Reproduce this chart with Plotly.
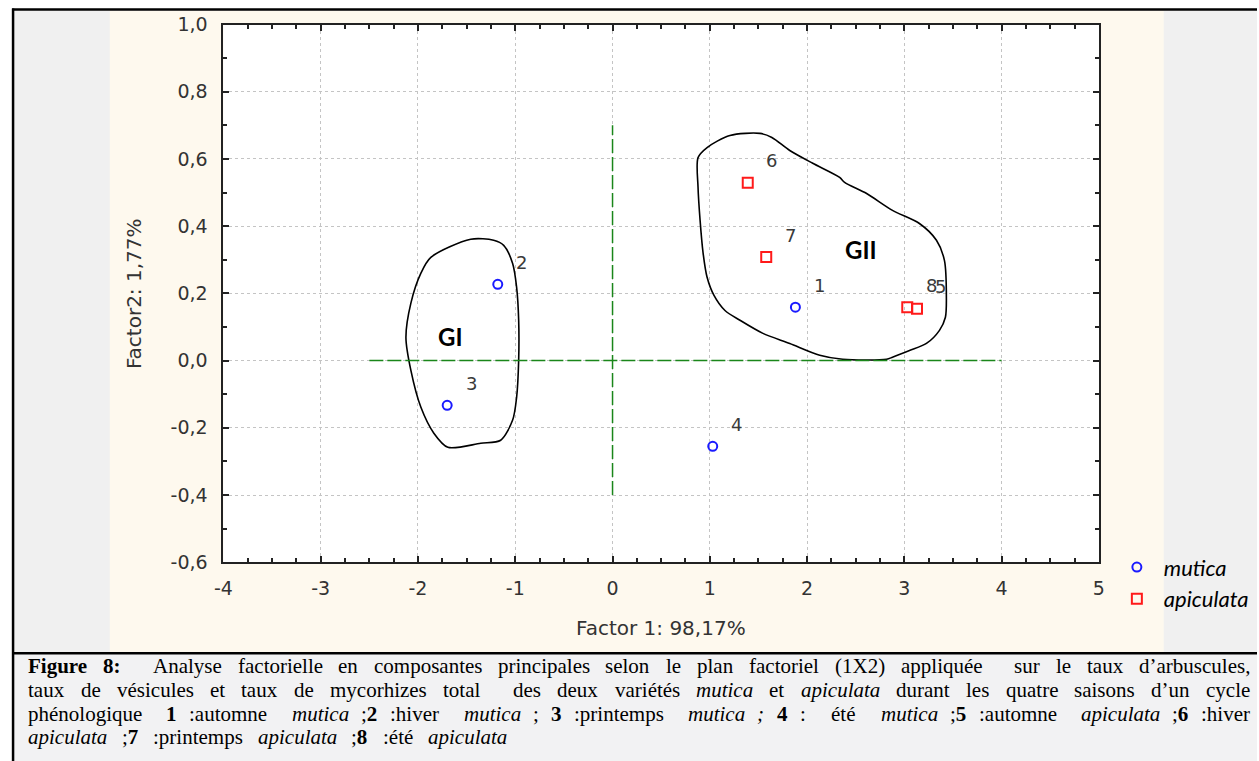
import re
import plotly.graph_objects as go

# ---- data -------------------------------------------------------------
point_labels = ["1", "2", "3", "4", "5", "6", "7", "8"]
variety = ["mutica", "mutica", "mutica", "mutica",
           "apiculata", "apiculata", "apiculata", "apiculata"]
factor1 = [1.88, -1.18, -1.70, 1.03, 3.13, 1.39, 1.58, 3.03]
factor2 = [0.159, 0.227, -0.133, -0.255, 0.154, 0.529, 0.308, 0.159]

# hand-drawn group envelopes (factor1, factor2)
gi_x = [-1.868, -1.458, -1.222, -1.119, -1.027, -0.986, -0.965, -0.965, -0.986, -1.027,
        -1.150, -1.355, -1.693, -1.837, -1.970, -2.073, -2.124, -2.073, -1.970, -1.868]
gi_y = [0.307, 0.361, 0.358, 0.343, 0.289, 0.218, 0.120, 0.001, -0.109, -0.177,
        -0.237, -0.246, -0.258, -0.216, -0.139, -0.029, 0.069, 0.171, 0.260, 0.307]
gii_x = [0.879, 0.972, 1.207, 1.515, 1.638, 1.822, 2.058, 2.335, 2.386, 2.612, 2.878,
         3.155, 3.330, 3.412, 3.432, 3.422, 3.361, 3.227, 3.053, 2.878, 2.817, 2.366,
         2.130, 1.822, 1.546, 1.310, 1.156, 1.043, 0.972, 0.931, 0.900, 0.879, 0.879]
gii_y = [0.604, 0.634, 0.670, 0.676, 0.664, 0.625, 0.587, 0.545, 0.530, 0.497, 0.447,
         0.408, 0.358, 0.298, 0.188, 0.129, 0.090, 0.051, 0.030, 0.010, 0.004, 0.004,
         0.016, 0.051, 0.081, 0.120, 0.149, 0.194, 0.248, 0.320, 0.418, 0.516, 0.604]
group_names = ["GI", "GII"]
group_label_x = [-1.67, 2.55]
group_label_y = [0.072, 0.331]

x_ticks = [-4, -3, -2, -1, 0, 1, 2, 3, 4, 5]
x_tick_text = ["-4", "-3", "-2", "-1", "0", "1", "2", "3", "4", "5"]
y_ticks = [-0.6, -0.4, -0.2, 0.0, 0.2, 0.4, 0.6, 0.8, 1.0]
y_tick_text = ["-0,6", "-0,4", "-0,2", "0,0", "0,2", "0,4", "0,6", "0,8", "1,0"]

# reference axes through the origin
h_ref = dict(x0=-2.5, x1=4.0, y=0.0)
v_ref = dict(x=0.0, y0=-0.4, y1=0.7)

caption_lines = [
    "<b>Figure</b> <b>8:</b>  Analyse factorielle en composantes principales selon le plan "
    "factoriel (1X2) appliquée  sur le taux d\u2019arbuscules,",
    "taux de vésicules et taux de mycorhizes total  des deux variétés <i>mutica</i> et "
    "<i>apiculata</i> durant les quatre saisons d\u2019un cycle",
    "phénologique  <b>1</b> :automne  <i>mutica</i> ;<b>2</b> :hiver  <i>mutica</i> ; "
    "<b>3</b> :printemps  <i>mutica</i> <i>;</i> <b>4</b> :  été  <i>mutica</i> ;<b>5</b> "
    ":automne  <i>apiculata</i> ;<b>6</b> :hiver",
    "<i>apiculata</i> ;<b>7</b> :printemps <i>apiculata</i> ;<b>8</b> :été <i>apiculata</i>",
]

# ---- page geometry ---------------------------------------------------------
# Layout positions are written on a 1259x761 design grid, then mapped onto
# the page (figure sits inside the body's 8px margin).
BODY = 8
GRID_SX, GRID_OX = 0.991, -1.0
GRID_SY, GRID_OY = 0.972, 2.7
W = 1263
H = 772
PL, PR, PT, PB = 222, 1100, 24, 562


def page_x(x):
    return (x - GRID_OX) / GRID_SX - BODY


def page_y(y):
    return (y - GRID_OY) / GRID_SY - BODY


def px(x):
    return page_x(x) / W


def py(y):
    return 1 - page_y(y) / H


TICK_FONT = dict(family="DejaVu Sans", size=19, color="#333333")
TITLE_FONT = dict(family="DejaVu Sans", size=20, color="#333333")
AXIS_COLOR = "#222222"

# ---- Times-style advance widths (1/1000 em) for the caption -------------
_REG = dict(zip(" ,-.:;()’'", [250, 250, 333, 250, 278, 278, 333, 333, 333, 333]))
_REG.update({d: 500 for d in "0123456789"})
_REG.update(dict(zip("ABCDEFGHIJKLMNOPQRSTUVWXYZ",
                     [722, 667, 667, 722, 611, 556, 722, 722, 333, 389, 722, 611, 889,
                      722, 722, 556, 722, 667, 556, 611, 722, 722, 944, 722, 722, 611])))
_REG.update(dict(zip("abcdefghijklmnopqrstuvwxyz",
                     [444, 500, 444, 500, 444, 333, 500, 500, 278, 278, 500, 278, 778,
                      500, 500, 500, 500, 333, 389, 278, 500, 500, 722, 500, 500, 444])))
_REG.update({"é": 444, "è": 444})
_BOLD = dict(_REG)
_BOLD.update({"F": 611, "u": 556, "r": 444, ":": 333, "g": 500})
_ITAL = dict(_REG)
_ITAL.update({"a": 500, "m": 722, "r": 389, ";": 333})


def markup_width(s, size):
    bold = ital = False
    total = 0
    for part in re.split(r"(</?[bi]>)", s):
        if part == "<b>":
            bold = True
        elif part == "</b>":
            bold = False
        elif part == "<i>":
            ital = True
        elif part == "</i>":
            ital = False
        else:
            table = _BOLD if bold else (_ITAL if ital else _REG)
            total += sum(table.get(ch, 500) for ch in part)
    return total * size / 1000.0


fig = go.Figure()

styles = {
    "mutica": dict(symbol="circle-open", size=9, color="#1a1aff", line=dict(width=2, color="#1a1aff")),
    "apiculata": dict(symbol="square-open", size=10, color="#ff1a1a", line=dict(width=2, color="#ff1a1a")),
}

# envelopes
for gx, gy in [(gi_x, gi_y), (gii_x, gii_y)]:
    fig.add_trace(go.Scatter(x=gx, y=gy, mode="lines",
                             line=dict(color="black", width=1.6, shape="spline", smoothing=0.8),
                             showlegend=False, hoverinfo="skip"))

for name in ["mutica", "apiculata"]:
    idx = [i for i, v in enumerate(variety) if v == name]
    fig.add_trace(go.Scatter(
        x=[factor1[i] for i in idx], y=[factor2[i] for i in idx],
        mode="markers", name=name, marker=styles[name],
    ))

shapes = [
    # panel backgrounds
    dict(type="rect", xref="paper", yref="paper", x0=px(12), x1=1, y0=py(653), y1=py(10),
         fillcolor="#f0f0f0", line=dict(width=0), layer="below"),
    dict(type="rect", xref="paper", yref="paper", x0=px(108), x1=px(1165), y0=py(652), y1=py(10),
         fillcolor="#fef9ee", line=dict(width=0), layer="below"),
    dict(type="rect", xref="paper", yref="paper", x0=px(12), x1=1, y0=0, y1=py(654),
         fillcolor="#f2f2f3", line=dict(width=0), layer="below"),
    dict(type="rect", xref="paper", yref="paper", x0=px(PL), x1=px(PR), y0=py(PB), y1=py(PT),
         fillcolor="white", line=dict(width=0), layer="below"),
    # box border
    dict(type="line", xref="paper", yref="paper", x0=px(11), x1=px(11), y0=0, y1=py(8),
         line=dict(color="black", width=2.5)),
    dict(type="line", xref="paper", yref="paper", x0=px(10), x1=1, y0=py(9), y1=py(9),
         line=dict(color="black", width=2.5)),
    dict(type="line", xref="paper", yref="paper", x0=px(10), x1=1, y0=py(653), y1=py(653),
         line=dict(color="black", width=2.5)),
    # green reference axes
    dict(type="line", xref="x", yref="y", x0=h_ref["x0"], x1=h_ref["x1"], y0=h_ref["y"], y1=h_ref["y"],
         line=dict(color="#1a861a", width=1.5, dash="14px,4px")),
    dict(type="line", xref="x", yref="y", x0=v_ref["x"], x1=v_ref["x"], y0=v_ref["y0"], y1=v_ref["y1"],
         line=dict(color="#1a861a", width=1.5, dash="14px,4px")),
]

annotations = []
for lab, x, y in zip(point_labels, factor1, factor2):
    annotations.append(dict(x=x, y=y, xref="x", yref="y", text=lab, showarrow=False,
                            xshift=24, yshift=22,
                            font=dict(family="DejaVu Sans", size=18, color="#3a3a3a")))
for g, x, y in zip(group_names, group_label_x, group_label_y):
    annotations.append(dict(x=x, y=y, xref="x", yref="y", text=f"<b>{g}</b>", showarrow=False,
                            font=dict(family="Lato", size=24, color="black")))

# axis titles
annotations.append(dict(x=px(661), y=py(628), xref="paper", yref="paper", text="Factor 1: 98,17%",
                        xanchor="center", yanchor="middle", showarrow=False, font=TITLE_FONT))
annotations.append(dict(x=px(133), y=py(293), xref="paper", yref="paper", text="Factor2: 1,77%",
                        xanchor="center", yanchor="middle", textangle=-90, showarrow=False,
                        font=TITLE_FONT))

# caption: words laid out one by one; each line spread between its two ends
CAP_SIZE = 21
CAP_FONT = dict(family="Liberation Serif", size=CAP_SIZE, color="black")
CAP_LEFT = 25
CAP_RIGHTS = [1250, 1250, 1250, 505]
CAP_ROWS = [666, 690, 713.5, 737]
for line, right, ypix in zip(caption_lines, CAP_RIGHTS, CAP_ROWS):
    parts = re.split(r"( +)", line)
    words = parts[0::2]
    gaps = [len(g) for g in parts[1::2]]
    widths = [markup_width(w, CAP_SIZE) for w in words]
    span = page_x(right) - page_x(CAP_LEFT)
    per_space = (span - sum(widths)) / sum(gaps)
    xpos = page_x(CAP_LEFT)
    for i, (w, wd) in enumerate(zip(words, widths)):
        annotations.append(dict(x=xpos / W, y=py(ypix), xref="paper", yref="paper", text=w,
                                xanchor="left", yanchor="middle", showarrow=False,
                                borderpad=0, font=CAP_FONT))
        if i < len(gaps):
            xpos += wd + gaps[i] * per_space

axis_common = dict(
    showline=True, linecolor=AXIS_COLOR, linewidth=2, mirror="allticks",
    ticks="inside", ticklen=6, tickwidth=1.5, tickcolor=AXIS_COLOR,
    showgrid=True, gridcolor="#c4c4c4", gridwidth=1, griddash="dot",
    zeroline=False, tickfont=TICK_FONT, tickmode="array",
)

fig.update_layout(
    width=W, height=H, autosize=False,
    margin=dict(l=0, r=0, t=0, b=0),
    paper_bgcolor="white", plot_bgcolor="white",
    separators=", ",
    xaxis=dict(axis_common, domain=[px(PL), px(PR)], range=[-4, 5],
               tickvals=x_ticks, ticktext=x_tick_text, ticklabelstandoff=8,
               minor=dict(ticks="inside", ticklen=4, tickwidth=1.5, tickcolor=AXIS_COLOR,
                          dtick=0.25, tick0=0, showgrid=False)),
    yaxis=dict(axis_common, domain=[py(PB), py(PT)], range=[-0.6, 1.0],
               tickvals=y_ticks, ticktext=y_tick_text, ticklabelstandoff=10,
               minor=dict(ticks="inside", ticklen=4, tickwidth=1.5, tickcolor=AXIS_COLOR,
                          dtick=0.1, tick0=0, showgrid=False)),
    shapes=shapes,
    annotations=annotations,
    showlegend=True,
    legend=dict(x=px(1111), y=py(546), xanchor="left", yanchor="top", itemwidth=44,
                bgcolor="rgba(0,0,0,0)", borderwidth=0, tracegroupgap=0,
                font=dict(family="Lato", size=22, style="italic", color="black")),
)

fig.write_html("out.html")
